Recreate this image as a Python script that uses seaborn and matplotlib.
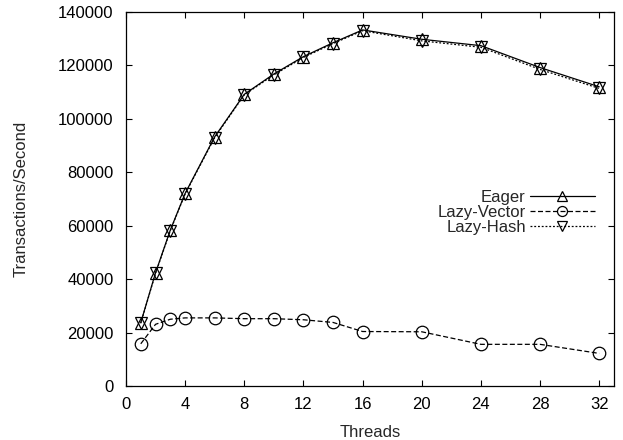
import matplotlib
matplotlib.use("Agg")
import matplotlib.pyplot as plt
import seaborn as sns
import pandas as pd

threads = [1, 2, 3, 4, 6, 8, 10, 12, 14, 16, 20, 24, 28, 32]
eager = [23700, 42400, 58400, 72100, 93300, 109200, 116800, 123300, 128500, 133300, 129800, 127400, 119200, 112000]
lazy_vector = [15800, 23100, 25000, 25500, 25500, 25200, 25200, 24800, 23800, 20400, 20300, 15600, 15600, 12200]
lazy_hash = [23500, 42200, 58200, 71900, 93000, 109000, 116500, 123000, 128200, 133000, 129200, 126800, 118500, 111400]

series_names = ["Eager", "Lazy-Vector", "Lazy-Hash"]
series_values = [eager, lazy_vector, lazy_hash]
markers = {"Eager": "^", "Lazy-Vector": "o", "Lazy-Hash": "v"}
dashes = {"Eager": (None, None), "Lazy-Vector": (4, 2), "Lazy-Hash": (1.5, 1.5)}

sns.set_style("ticks")
plt.rcParams["font.family"] = ["Liberation Sans", "DejaVu Sans"]
plt.rcParams["font.size"] = 12

fig, ax = plt.subplots(figsize=(6.23, 4.40), dpi=100)
fig.subplots_adjust(left=0.2022, right=0.9856, top=0.9727, bottom=0.1227)

for name, vals in zip(series_names, series_values):
    df = pd.DataFrame({"Threads": threads, "Transactions/Second": vals})
    sns.lineplot(data=df, x="Threads", y="Transactions/Second", ax=ax,
                 color="black", marker=markers[name], markersize=9,
                 mfc="none", mec="black", mew=0.9, linewidth=0.9,
                 dashes=False, label=name, legend=False)
    line = ax.lines[-1]
    line.set_markerfacecolor("none")
    line.set_markeredgecolor("black")
    if dashes[name] != (None, None):
        line.set_dashes(dashes[name])

ax.set_xlim(0, 33)
ax.set_ylim(0, 140000)
ax.set_xticks([0, 4, 8, 12, 16, 20, 24, 28, 32])
ax.set_yticks(range(0, 140001, 20000))
ax.tick_params(direction="in", length=4, width=0.8, top=True, right=True,
               labelsize=12, colors="black")
ax.tick_params(axis="x", pad=8)
ax.tick_params(axis="y", pad=9)
for sp in ax.spines.values():
    sp.set_visible(True)
    sp.set_linewidth(0.9)
    sp.set_color("black")
ax.set_xlabel("Threads", fontsize=12, labelpad=9)
ax.set_ylabel("Transactions/Second", fontsize=12, labelpad=21)

handles = [ax.lines[i] for i in range(3)]
leg = ax.legend(handles, series_names, loc="center right",
                bbox_to_anchor=(0.961, 0.465), frameon=False, markerfirst=False,
                handlelength=3.9, handletextpad=0.25, labelspacing=0.0,
                borderpad=0, borderaxespad=0, fontsize=12, markerscale=0.8)

fig.savefig("out.png", dpi=100)
